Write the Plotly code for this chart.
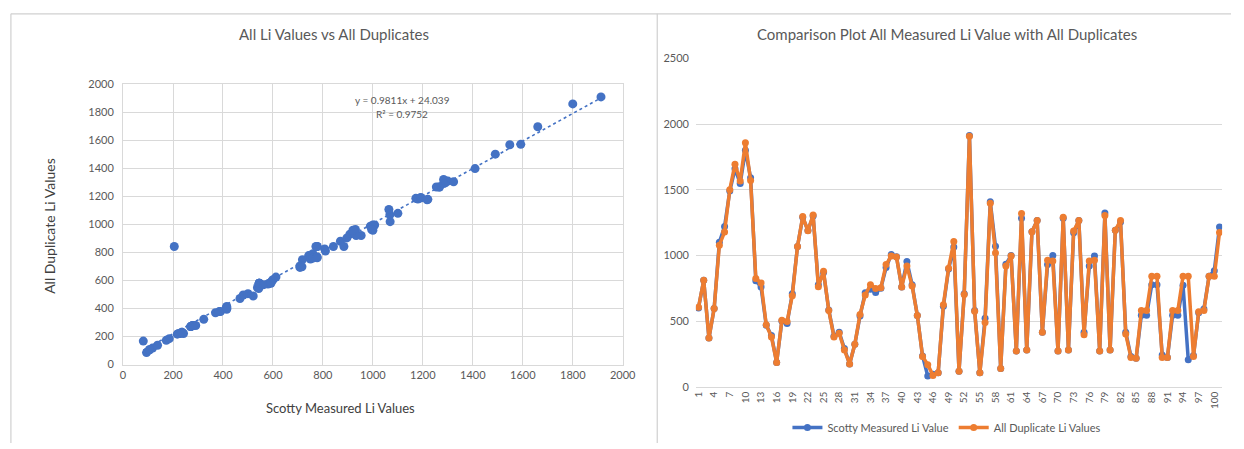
import plotly.graph_objects as go

# Li values per sample (sample number 1..101)
sample_no = list(range(1, 102))
scotty_li = [
    600, 810, 370, 595, 1100, 1220, 1490, 1660, 1548, 1800,
    1592, 807, 760, 468, 390, 185, 500, 481, 708, 1068,
    1290, 1190, 1300, 777, 870, 585, 385, 415, 291, 173,
    323, 538, 716, 743, 718, 750, 908, 1007, 990, 760,
    953, 777, 543, 234, 81, 94, 106, 612, 896, 1064,
    118, 708, 1913, 580, 106, 521, 1409, 1069, 138, 933,
    1000, 271, 1283, 279, 1180, 1266, 415, 930, 1000, 271,
    1283, 279, 1172, 1266, 415, 920, 995, 271, 1323, 279,
    1192, 1254, 415, 230, 217, 545, 545, 777, 777, 242,
    222, 545, 545, 772, 205, 237, 563, 592, 842, 884,
    1217,
]
duplicate_li = [
    605, 810, 370, 595, 1078, 1178, 1500, 1695, 1567, 1858,
    1570, 824, 790, 471, 378, 185, 506, 496, 693, 1068,
    1296, 1187, 1308, 762, 879, 580, 378, 407, 279, 173,
    323, 550, 698, 777, 748, 753, 930, 995, 987, 760,
    920, 767, 543, 230, 168, 86, 106, 624, 903, 1106,
    118, 703, 1908, 575, 106, 489, 1397, 1019, 138, 920,
    995, 271, 1320, 279, 1180, 1266, 415, 963, 958, 271,
    1291, 279, 1185, 1266, 395, 958, 963, 271, 1303, 279,
    1192, 1266, 402, 222, 217, 580, 580, 842, 842, 222,
    222, 580, 580, 842, 842, 230, 570, 580, 842, 842,
    1175,
]

# Linear trendline coefficients (shown in the equation label)
slope = 0.9811
intercept = 24.039
r_squared = 0.9752

W, H = 1244, 449
BLUE = "#4472C4"
ORANGE = "#ED7D31"
GRID = "#D9D9D9"
TXT = "#595959"
FONT = "Lato, 'Open Sans', sans-serif"


def px_x(x):
    return x / W


def px_y(y):
    return 1 - y / H


fig = go.Figure()

# Left: scatter of measured vs duplicate
fig.add_trace(go.Scatter(
    x=scotty_li, y=duplicate_li, mode="markers",
    marker=dict(color=BLUE, size=9),
    xaxis="x", yaxis="y", showlegend=False,
))
tx0, tx1 = min(scotty_li), max(scotty_li)
fig.add_trace(go.Scatter(
    x=[tx0, tx1], y=[slope * tx0 + intercept, slope * tx1 + intercept],
    mode="lines", line=dict(color=BLUE, width=1.6, dash="dot"),
    xaxis="x", yaxis="y", showlegend=False,
))

# Right: line comparison
fig.add_trace(go.Scatter(
    x=sample_no, y=scotty_li, mode="lines+markers",
    name="Scotty Measured Li Value",
    line=dict(color=BLUE, width=3.5), marker=dict(color=BLUE, size=7),
    xaxis="x2", yaxis="y2",
))
fig.add_trace(go.Scatter(
    x=sample_no, y=duplicate_li, mode="lines+markers",
    name="All Duplicate Li Values",
    line=dict(color=ORANGE, width=3.5), marker=dict(color=ORANGE, size=7),
    xaxis="x2", yaxis="y2",
))

tick_font = dict(family=FONT, size=11, color=TXT)

fig.update_layout(
    width=W, height=H,
    margin=dict(l=0, r=0, t=0, b=0),
    paper_bgcolor="white", plot_bgcolor="white",
    font=dict(family=FONT, color=TXT),
    xaxis=dict(
        domain=[px_x(120.7), px_x(627.3)], range=[0, 2000], dtick=200,
        showgrid=True, gridcolor=GRID, gridwidth=1, zeroline=False,
        showline=True, linecolor=GRID, mirror=True, ticks="",
        tickfont=tick_font, anchor="y",
    ),
    yaxis=dict(
        domain=[px_y(368.3), px_y(79.3)], range=[0, 2000], dtick=200,
        showgrid=True, gridcolor=GRID, gridwidth=1, zeroline=False,
        showline=True, linecolor=GRID, mirror=True, ticks="",
        tickfont=tick_font, anchor="x", ticklabelstandoff=6,
    ),
    xaxis2=dict(
        domain=[px_x(701.5), px_x(1235)], range=[0.5, 101.5],
        tickmode="array", tickvals=sample_no[::3],
        ticktext=[str(v) for v in sample_no[::3]],
        tickangle=-90, showgrid=False, zeroline=False,
        showline=True, linecolor=GRID, ticks="",
        tickfont=dict(family=FONT, size=10, color=TXT), anchor="y2",
    ),
    yaxis2=dict(
        domain=[px_y(391), px_y(53)], range=[0, 2500], dtick=500,
        showgrid=True, gridcolor=GRID, gridwidth=1, zeroline=False,
        showline=False, ticks="", tickfont=tick_font, anchor="x2",
        ticklabelstandoff=6,
    ),
    legend=dict(
        orientation="h", x=px_x(956), y=px_y(433),
        xanchor="center", yanchor="middle",
        font=dict(family=FONT, size=11, color=TXT),
        bgcolor="rgba(0,0,0,0)", itemwidth=30,
    ),
)

annotations = [
    dict(text="All Li Values vs All Duplicates", x=px_x(335), y=px_y(28),
         font=dict(size=15, color=TXT, family=FONT)),
    dict(text="Comparison Plot All Measured Li Value with All Duplicates",
         x=px_x(956), y=px_y(28), font=dict(size=15, color=TXT, family=FONT)),
    dict(text="Scotty Measured Li Values", x=px_x(341), y=px_y(413),
         font=dict(size=13, color="#404040", family=FONT)),
    dict(text="All Duplicate Li Values", x=px_x(46), y=px_y(225),
         textangle=-90, font=dict(size=14, color="#404040", family=FONT)),
    dict(text=f"y = {slope}x + {intercept}", x=px_x(404.5), y=px_y(96),
         font=dict(size=10, color=TXT, family=FONT)),
    dict(text=f"R² = {r_squared}", x=px_x(404), y=px_y(110),
         font=dict(size=10, color=TXT, family=FONT)),
]
for a in annotations:
    a.update(xref="paper", yref="paper", showarrow=False,
             xanchor="center", yanchor="middle")
fig.update_layout(annotations=annotations)

# Chart frames
frame = dict(type="line", xref="paper", yref="paper",
             line=dict(color="#D0D0D0", width=1.2))
fig.update_layout(shapes=[
    dict(frame, x0=px_x(7), x1=1, y0=px_y(7), y1=px_y(7)),
    dict(frame, x0=px_x(7), x1=px_x(7), y0=px_y(7), y1=0),
    dict(frame, x0=px_x(662.3), x1=px_x(662.3), y0=px_y(7), y1=0),
])

fig.write_html("out.html")
